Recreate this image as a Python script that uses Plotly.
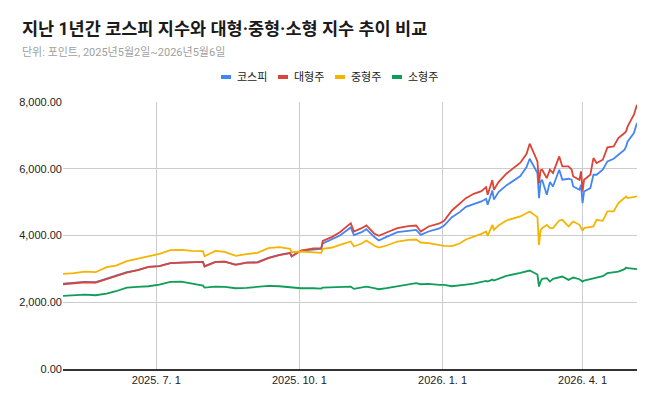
import plotly.graph_objects as go

dates = [
    "2025-05-02", "2025-05-09", "2025-05-16", "2025-05-23", "2025-05-30", "2025-06-05",
    "2025-06-12", "2025-06-19", "2025-06-26", "2025-07-03", "2025-07-10", "2025-07-17",
    "2025-07-24", "2025-07-31", "2025-08-01", "2025-08-08", "2025-08-14", "2025-08-21",
    "2025-08-28", "2025-09-04", "2025-09-11", "2025-09-18", "2025-09-25", "2025-09-26",
    "2025-10-02", "2025-10-10", "2025-10-15", "2025-10-16", "2025-10-22", "2025-10-27",
    "2025-11-03", "2025-11-05", "2025-11-10", "2025-11-13", "2025-11-18", "2025-11-21",
    "2025-11-26", "2025-12-03", "2025-12-10", "2025-12-15", "2025-12-18", "2025-12-23",
    "2025-12-30", "2026-01-02", "2026-01-07", "2026-01-12", "2026-01-16", "2026-01-21",
    "2026-01-26", "2026-01-29", "2026-01-30", "2026-02-02", "2026-02-03", "2026-02-06",
    "2026-02-11", "2026-02-20", "2026-02-24", "2026-02-26", "2026-03-03", "2026-03-04",
    "2026-03-05", "2026-03-06", "2026-03-09", "2026-03-11", "2026-03-13", "2026-03-17",
    "2026-03-19", "2026-03-23", "2026-03-25", "2026-03-26", "2026-03-30", "2026-03-31",
    "2026-04-01", "2026-04-02", "2026-04-06", "2026-04-08", "2026-04-10", "2026-04-14",
    "2026-04-17", "2026-04-21", "2026-04-24", "2026-04-28", "2026-04-29", "2026-04-30",
    "2026-05-04", "2026-05-06",
]

kospi = [
    2560, 2580, 2610, 2600, 2700, 2780,
    2900, 2960, 3060, 3080, 3170, 3190,
    3200, 3210, 3080, 3210, 3220, 3130,
    3190, 3200, 3330, 3420, 3480, 3380,
    3550, 3590, 3600, 3760, 3880, 4000,
    4240, 4010, 4100, 4190, 3960, 3850,
    3960, 4100, 4140, 4170, 4020, 4120,
    4210, 4300, 4550, 4700, 4860, 4950,
    5020, 5100, 4920, 5350, 5080, 5300,
    5500, 5780, 6050, 6300, 5870, 5120,
    5600, 5670, 5220, 5600, 5470, 5970,
    5670, 5700, 5670, 5470, 5370, 5520,
    4970, 5320, 5420, 5820, 5820, 5970,
    6220, 6300, 6420, 6570, 6670, 6820,
    7070, 7370,
]

large = [
    2540, 2570, 2600, 2590, 2690, 2780,
    2890, 2960, 3060, 3080, 3170, 3190,
    3200, 3210, 3070, 3210, 3220, 3120,
    3190, 3190, 3320, 3410, 3470, 3370,
    3550, 3610, 3620, 3840, 3960, 4100,
    4370, 4120, 4220, 4300, 4060, 3990,
    4090, 4220, 4280, 4300, 4120, 4270,
    4360, 4440, 4750, 4950, 5120, 5250,
    5330, 5450, 5220, 5660, 5370, 5600,
    5850, 6180, 6450, 6750, 6220, 5570,
    5950, 5970, 5720, 5970, 5870, 6370,
    6070, 6070, 5970, 5770, 5670, 5920,
    5320, 5670, 5820, 6320, 6170, 6270,
    6640, 6670, 6920, 7070, 7120, 7270,
    7620, 7920,
]

mid = [
    2850, 2870, 2920, 2900, 3050, 3100,
    3230, 3300, 3390, 3450, 3560, 3570,
    3540, 3530, 3380, 3540, 3510, 3390,
    3440, 3480, 3620, 3650, 3600, 3500,
    3520, 3490, 3480, 3600, 3640, 3720,
    3820, 3670, 3760, 3850, 3700, 3640,
    3700, 3820, 3870, 3880, 3790, 3770,
    3720, 3690, 3680, 3760, 3880, 3960,
    4050, 4120, 3990, 4320, 4170, 4300,
    4450, 4570, 4660, 4720, 4550, 3720,
    4150, 4220, 4320, 4230, 4220, 4450,
    4470, 4270, 4380, 4420, 4320, 4250,
    4140, 4220, 4240, 4270, 4470, 4440,
    4720, 4720, 4970, 5120, 5170, 5120,
    5150, 5170,
]

small = [
    2190, 2200, 2230, 2210, 2260, 2330,
    2440, 2460, 2480, 2530, 2610, 2620,
    2560, 2500, 2440, 2470, 2460, 2420,
    2430, 2450, 2490, 2480, 2450, 2430,
    2420, 2420, 2410, 2440, 2450, 2470,
    2470, 2400, 2430, 2470, 2420, 2390,
    2420, 2470, 2530, 2570, 2540, 2550,
    2520, 2520, 2480, 2500, 2530, 2560,
    2600, 2640, 2620, 2680, 2650, 2700,
    2790, 2880, 2920, 2950, 2830, 2470,
    2620, 2700, 2720, 2620, 2700, 2760,
    2770, 2670, 2720, 2740, 2690, 2660,
    2620, 2650, 2700, 2720, 2740, 2780,
    2870, 2890, 2920, 2990, 3040, 3020,
    3000, 2990,
]

series_names = ["코스피", "대형주", "중형주", "소형주"]
series_values = [kospi, large, mid, small]
colors = ["#4285F4", "#DB4437", "#F4B400", "#0F9D58"]

x_tick_vals = ["2025-07-01", "2025-10-01", "2026-01-01", "2026-04-01"]
x_tick_text = ["2025. 7. 1", "2025. 10. 1", "2026. 1. 1", "2026. 4. 1"]
y_tick_vals = [0, 2000, 4000, 6000, 8000]

FONT = "Arial, 'Liberation Sans', 'Noto Sans CJK KR', sans-serif"
KFONT = "Roboto, Arial, 'Noto Sans CJK KR', sans-serif"

fig = go.Figure()
for name, vals, col in zip(series_names, series_values, colors):
    fig.add_trace(go.Scatter(
        x=dates, y=vals, name=name, mode="lines",
        line=dict(color=col, width=1.8), showlegend=False,
    ))

# layout geometry in pixels
W, H = 658, 407
L, R, T, B = 63, 21, 102, 38
pw, ph = W - L - R, H - T - B

def px_x(px):
    return (px - L) / pw

def px_y(py):
    return (H - B - py) / ph

shapes = []
annotations = []
legend_marker_x = [221, 278, 335, 392]
legend_y = 77
for name, col, mx in zip(series_names, colors, legend_marker_x):
    shapes.append(dict(
        type="line", xref="paper", yref="paper",
        x0=px_x(mx), x1=px_x(mx + 10), y0=px_y(legend_y), y1=px_y(legend_y),
        line=dict(color=col, width=4),
    ))
    annotations.append(dict(
        text=name, xref="paper", yref="paper", x=px_x(mx + 14), y=px_y(legend_y),
        xanchor="left", yanchor="middle", showarrow=False,
        font=dict(family=KFONT, size=11, color="#222222"),
    ))

annotations.append(dict(
    text="<b>지난 1년간 코스피 지수와 대형·중형·소형 지수 추이 비교</b>",
    xref="paper", yref="paper", x=px_x(20), y=px_y(29),
    xanchor="left", yanchor="middle", showarrow=False,
    font=dict(family=KFONT, size=17.5, color="#1A1A1A"),
))
annotations.append(dict(
    text="단위: 포인트, 2025년5월2일~2026년5월6일",
    xref="paper", yref="paper", x=px_x(20), y=px_y(52),
    xanchor="left", yanchor="middle", showarrow=False,
    font=dict(family=KFONT, size=11, color="#A0A0A0"),
))

fig.update_layout(
    width=W, height=H,
    margin=dict(l=L, r=R, t=T, b=B),
    paper_bgcolor="white", plot_bgcolor="white",
    shapes=shapes, annotations=annotations,
    showlegend=False,
    xaxis=dict(
        type="date", range=["2025-05-02", "2026-05-06"],
        tickvals=x_tick_vals, ticktext=x_tick_text,
        showgrid=True, gridcolor="#CCCCCC", gridwidth=1,
        showline=True, linecolor="#333333", linewidth=1.5,
        zeroline=False, ticks="",
        tickfont=dict(family=FONT, size=11, color="#222222"),
    ),
    yaxis=dict(
        range=[0, 8000], tickvals=y_tick_vals, tickformat=",.2f",
        showgrid=True, gridcolor="#CCCCCC", gridwidth=1,
        zeroline=False, ticks="",
        tickfont=dict(family=FONT, size=11, color="#222222"),
    ),
)

fig.write_html(
    "out.html",
    config={"displayModeBar": False},
    post_script="document.body.style.margin='0px';",
)
